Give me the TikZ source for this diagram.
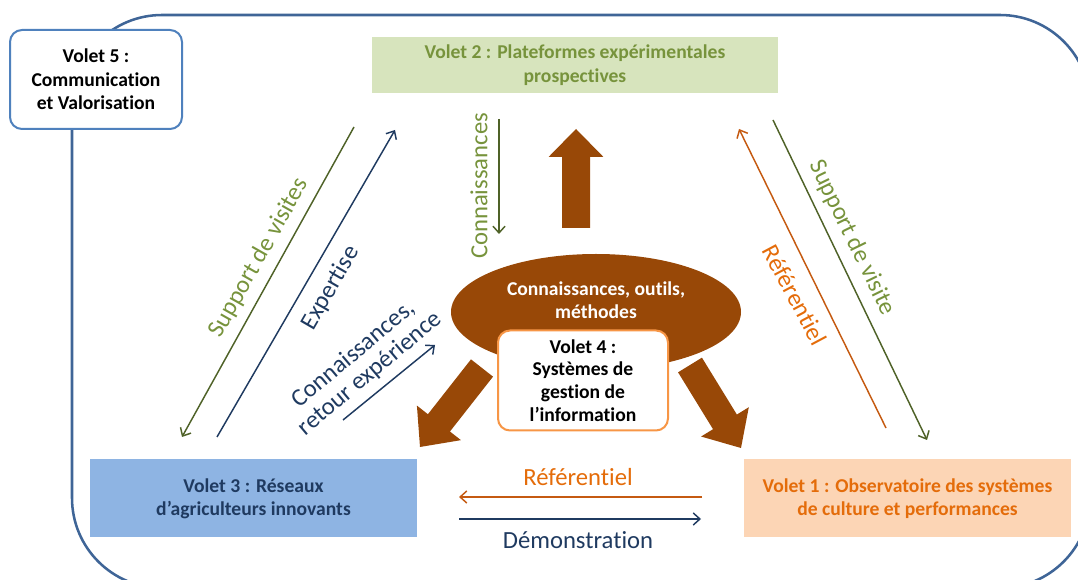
\documentclass[tikz,border=0pt]{standalone}
\usepackage{fontspec}
\setmainfont{Carlito}[Ligatures=CommonOff]
\usetikzlibrary{arrows.meta,calc,shapes.geometric}
\definecolor{outlinec}{HTML}{3F6597}
\definecolor{vfiveborder}{HTML}{4F81BD}
\definecolor{vfourborder}{HTML}{F79646}
\definecolor{greenfill}{HTML}{D7E4BD}
\definecolor{bluefill}{HTML}{8EB4E3}
\definecolor{orangefill}{HTML}{FCD5B5}
\definecolor{greentext}{HTML}{77933C}
\definecolor{greenline}{HTML}{4F6228}
\definecolor{navy}{HTML}{1F3A60}
\definecolor{orangetext}{HTML}{E46C0A}
\definecolor{orangeline}{HTML}{C55A11}
\definecolor{brownc}{HTML}{984807}
\newcommand\bigbrownarrow[5]{% tail, tip, half shaft, half head, head length
  \fill[brownc] ($(#1)!#3!90:(#2)$)
    -- ($($(#2)!#5!(#1)$)!#3!-90:(#1)$)
    -- ($($(#2)!#5!(#1)$)!#4!-90:(#1)$)
    -- (#2)
    -- ($($(#2)!#5!(#1)$)!#4!90:(#1)$)
    -- ($($(#2)!#5!(#1)$)!#3!90:(#1)$)
    -- ($(#1)!#3!-90:(#2)$) -- cycle;}
\begin{document}
\begin{tikzpicture}[x=0.75pt,y=-0.75pt,
  boldtxt/.style={font=\fontsize{14.7}{17.5}\selectfont\bfseries, align=center},
  labeltxt/.style={font=\fontsize{18.5}{21}\selectfont, align=center, inner sep=0pt},
  voletbox/.style={boldtxt, draw=none, minimum width=245.25pt, minimum height=58.5pt},
  thinarrow/.style={line width=1.1pt, -{Straight Barb[length=5pt,width=9pt,line width=1.1pt]}},
  thinline/.style={line width=1.1pt}]
\useasboundingbox (0,0) rectangle (1078,580);
\clip (0,0) rectangle (1078,580);

% outer rounded frame
\draw[outlinec, line width=1.9pt, rounded corners=67.5pt] (72,15) rectangle (1090,588);

% Volet 5
\node[boldtxt, draw=vfiveborder, line width=1.5pt, fill=white, rounded corners=9pt,
      minimum width=129pt, minimum height=74.25pt] (v5) at (96,79.5)
      {Volet 5 :\\Communication\\et Valorisation};

% Volet 2
\node[boldtxt, font=\fontsize{14.7}{18}\selectfont\bfseries, fill=greenfill, text=greentext,
      minimum width=304.5pt, minimum height=42pt]
      (v2) at (575,65.5) {Volet 2 : Plateformes expérimentales\\prospectives};

% Volet 3
\node[voletbox, fill=bluefill, text=navy] (v3) at (253.5,498.5)
      {Volet 3 : Réseaux\\d’agriculteurs innovants};

% Volet 1
\node[voletbox, fill=orangefill, text=orangetext] (v1) at (907.5,498.5)
      {Volet 1 : Observatoire des systèmes\\de culture et performances};

% thick brown arrows
\coordinate (upT) at (576,228);
\coordinate (upP) at (576,129);
\bigbrownarrow{upT}{upP}{10.5pt}{20.6pt}{21pt}
\coordinate (llT) at (482,368);
\coordinate (llP) at (420,447);
\bigbrownarrow{llT}{llP}{10.5pt}{21pt}{23pt}
\coordinate (lrT) at (690,365);
\coordinate (lrP) at (741,448);
\bigbrownarrow{lrT}{lrP}{10.5pt}{21pt}{23pt}

% central ellipse
\node[ellipse, fill=brownc, minimum width=217.5pt, minimum height=87pt] (ell) at (596,312) {};
\node[boldtxt, text=white] (elltxt) at (596,300.5) {Connaissances, outils,\\méthodes};

% Volet 4
\node[boldtxt, font=\fontsize{14.7}{17}\selectfont\bfseries, draw=vfourborder, line width=1.5pt,
      fill=white, rounded corners=9pt, minimum width=127.5pt, minimum height=75pt] (v4) at (583,380.5)
      {Volet 4 :\\Systèmes de\\gestion de\\l’information};

% left pair of arrows
\coordinate (gla) at (354,127);
\coordinate (glb) at (182,437);
\draw[thinarrow, greenline] (gla) -- (glb);
\coordinate (nla) at (217,437);
\coordinate (nlb) at (395,130);
\draw[thinarrow, navy] (nla) -- (nlb);
\node[labeltxt, text=greentext, rotate=60.5] (supv) at (259,258) {Support de visites};
\node[labeltxt, text=navy, rotate=60] (expt) at (331,288) {Expertise};

% small navy arrow
\coordinate (sna) at (343,420);
\coordinate (snb) at (435,345);
\draw[thinarrow, navy] (sna) -- (snb);
\node[labeltxt, font=\fontsize{18.5}{19}\selectfont, text=navy, rotate=40] (conret) at (362,364)
      {Connaissances,\\retour expérience};

% vertical Connaissances
\coordinate (vca) at (499,119);
\coordinate (vcb) at (499,234);
\draw[thinarrow, greenline] (vca) -- (vcb);
\node[labeltxt, text=greentext, rotate=90] (conn) at (479,186) {Connaissances};

% right pair
\coordinate (ora) at (886,428);
\coordinate (orb) at (739,129);
\draw[thinarrow, orangeline] (ora) -- (orb);
\coordinate (gra) at (773,120);
\coordinate (grb) at (927,440);
\draw[thinarrow, greenline] (gra) -- (grb);
\node[labeltxt, text=greentext, rotate=-64] (supv2) at (852,238) {Support de visite};
\node[labeltxt, text=orangetext, rotate=-62] (ref1) at (795,295) {Référentiel};

% bottom pair
\coordinate (boa) at (702,497);
\coordinate (bob) at (459,497);
\draw[thinarrow, orangeline] (boa) -- (bob);
\coordinate (bna) at (459,519);
\coordinate (bnb) at (701,519);
\draw[thinarrow, navy] (bna) -- (bnb);
\node[labeltxt, text=orangetext] (ref2) at (578,477) {Référentiel};
\node[labeltxt, text=navy] (demo) at (578,540) {Démonstration};
\end{tikzpicture}
\end{document}
